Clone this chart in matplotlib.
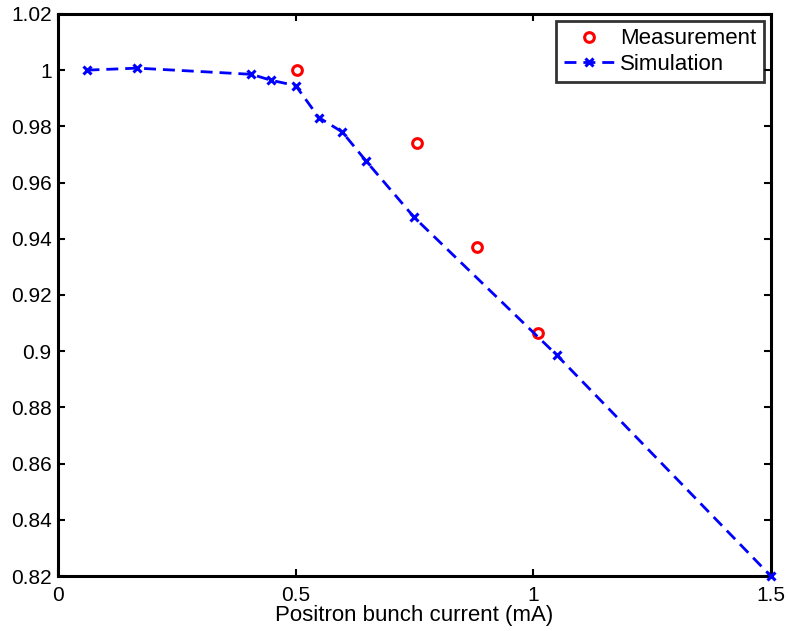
import matplotlib.pyplot as plt

plt.rcParams['font.family'] = ['Liberation Sans', 'DejaVu Sans']

# Simulation data
sim_current = [0.062, 0.167, 0.407, 0.448, 0.500, 0.549, 0.598, 0.649, 0.749, 1.049, 1.500]
sim_ratio = [1.000, 1.0007, 0.9985, 0.9964, 0.9945, 0.9831, 0.9780, 0.9675, 0.9477, 0.8987, 0.820]

# Measured data
meas_current = [0.502, 0.755, 0.882, 1.010]
meas_ratio = [1.000, 0.9741, 0.9369, 0.9064]

fig = plt.figure(figsize=(7.88, 6.31), dpi=100)
ax = fig.add_axes([0.0736, 0.087, 0.9047, 0.891])

ax.plot(meas_current, meas_ratio, 'o', color='red', markerfacecolor='none',
        markeredgewidth=2.2, markersize=7, linestyle='none', label='Measurement')
ax.plot(sim_current, sim_ratio, '--x', color='blue', linewidth=2,
        dashes=(4.3, 2.5), markersize=5.5, markeredgewidth=2.2, label='Simulation',
        clip_on=False, zorder=5)

ax.set_xlim(0, 1.5)
ax.set_ylim(0.82, 1.02)
ax.set_xticks([0, 0.5, 1, 1.5])
ax.set_xticklabels(['0', '0.5', '1', '1.5'])
ax.set_yticks([0.82, 0.84, 0.86, 0.88, 0.9, 0.92, 0.94, 0.96, 0.98, 1, 1.02])
ax.set_yticklabels(['0.82', '0.84', '0.86', '0.88', '0.9', '0.92', '0.94',
                    '0.96', '0.98', '1', '1.02'])
ax.tick_params(direction='in', length=5, width=1.5, labelsize=15,
               top=True, right=True)
ax.tick_params(axis='x', pad=7)
ax.tick_params(axis='y', pad=4.5)
for s in ax.spines.values():
    s.set_linewidth(2.2)

ax.set_xlabel('Positron bunch current (mA)', fontsize=16, labelpad=0)

leg = ax.legend(loc='upper right', fontsize=16, frameon=True, fancybox=False,
                edgecolor='black', borderpad=0.33, labelspacing=0.2,
                handlelength=2.3, handletextpad=0.25, borderaxespad=0.32)
leg.get_frame().set_linewidth(2)

fig.savefig('out.png', dpi=100)
